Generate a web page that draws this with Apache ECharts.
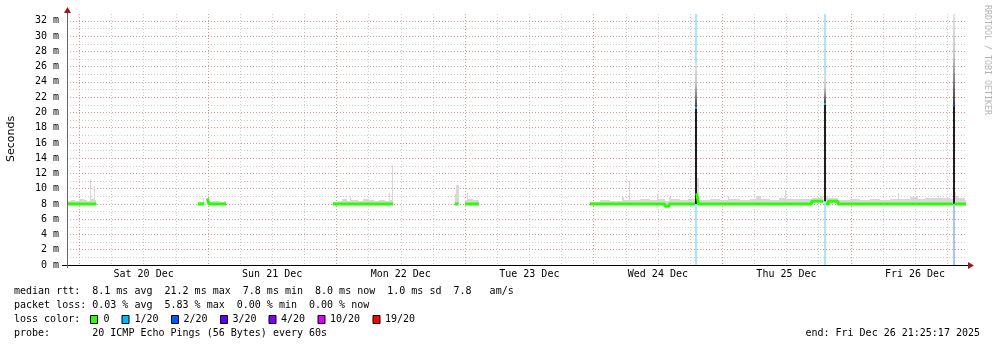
<!DOCTYPE html>
<html><head><meta charset="utf-8">
<script src="https://cdn.jsdelivr.net/npm/echarts@6/dist/echarts.min.js"></script>
<style>html,body{margin:0;padding:0;background:#fff}#c{width:997px;height:347px}</style>
</head><body><div id="c"></div>
<script>
// ---------------- data (hours from Sat 20 Dec 00:00) ----------------
const hours = [
  -2.3,-1.6,-0.8,0.0,0.8,1.5,2.0,2.2,2.8,3.0,3.1,3.2,
  22.1,22.6,23.0,23.3,23.4,
  23.9,24.2,25.0,26.0,27.0,27.4,27.5,
  47.3,48.2,49.0,50.0,50.5,50.8,52.0,53.0,54.0,55.0,56.0,57.0,57.8,58.0,58.3,58.45,58.6,58.7,
  70.1,70.4,70.8,70.9,
  72.0,72.3,72.6,73.5,74.6,74.7,
  95.3,97.2,99.0,101.3,101.6,102.6,102.8,104.6,106.5,107.8,108.1,109.3,110.1,110.4,112.1,113.6,114.9,115.0,
  115.25,115.6,117.8,119.6,121.0,121.2,123.4,125.2,126.3,127.3,128.9,130.7,131.7,131.9,134.5,136.7,138.2,138.9,139.0,
  139.35,139.8,141.6,143.9,145.7,147.6,149.4,151.3,152.8,153.0,155.0,156.3,156.5,157.8,160.2,160.4,162.5,163.0,163.1,
  163.35,163.6,164.0,165.3,165.5
];
const medianMs = [
  8.0,8.0,8.0,8.0,8.0,8.0,8.0,8.0,8.0,8.0,8.0,null,
  8.0,8.0,8.0,8.0,null,
  8.7,8.0,8.0,8.0,8.0,8.0,null,
  8.0,8.0,8.0,8.0,8.0,8.0,8.0,8.0,8.0,8.0,8.0,8.0,8.0,8.0,8.0,8.0,8.0,null,
  8.0,8.0,8.0,null,
  8.0,8.0,8.0,8.0,8.0,null,
  8.0,8.0,8.0,8.0,8.0,8.0,8.0,8.0,8.0,8.0,8.0,7.7,8.0,8.0,8.0,8.0,8.0,null,
  9.4,8.0,8.0,8.0,8.0,8.0,8.0,8.0,8.0,8.0,8.0,8.0,8.0,8.0,8.0,8.35,8.35,8.35,null,
  8.0,8.35,8.0,8.0,8.0,8.0,8.0,8.0,8.0,8.0,8.0,8.0,8.0,8.0,8.0,8.0,8.0,8.0,null,
  8.0,8.0,8.0,8.0,8.0
];
const smokeTopMs = [
  8.4,8.5,8.4,8.6,8.5,8.4,11.3,8.6,10.3,8.5,8.5,null,
  8.2,8.3,8.8,8.8,null,
  8.8,8.3,8.4,8.3,8.4,8.4,null,
  8.2,8.4,8.6,8.4,9.0,8.5,8.4,8.6,8.5,8.4,8.5,8.4,9.5,8.5,13.1,8.6,8.6,null,
  9.3,10.5,10.5,null,
  8.5,9.5,8.6,8.5,8.5,null,
  8.3,8.5,8.4,8.9,8.5,11.0,8.5,8.6,8.5,9.3,8.6,8.4,8.9,8.6,8.5,8.7,8.5,null,
  11.4,8.5,8.6,8.5,9.0,8.6,8.5,8.7,9.0,8.6,8.5,8.8,9.8,8.6,8.6,8.8,8.9,9.0,null,
  9.1,8.8,8.5,8.6,8.5,8.6,8.5,8.7,9.4,8.7,8.9,9.0,8.7,8.8,9.1,8.8,8.7,8.6,null,
  9.6,9.0,8.8,8.5,8.5
];
const spikeHours      = [115.1, 139.2, 163.2];
const spikeBaseMs     = [8.0, 8.35, 8.0];
const spikeMedianMs   = [20.6, 21.1, 20.9];
const spikeSmokeTopMs = [26.5, 25.0, 32.9];
const spikeLoss       = [1, 1, 2];           // pings lost out of 20

const dayLabels  = ['Sat 20 Dec','Sun 21 Dec','Mon 22 Dec','Tue 23 Dec','Wed 24 Dec','Thu 25 Dec','Fri 26 Dec'];
const lossSteps  = [0, 1, 2, 3, 4, 10, 19];
const lossLabels = ['0','1/20','2/20','3/20','4/20','10/20','19/20'];
const lossColors = ['#26ff00','#00b8ff','#0059ff','#5e00ff','#7e00ff','#dd00ff','#ff0000'];

const legendLines = [
  'median rtt:  8.1 ms avg  21.2 ms max  7.8 ms min  8.0 ms now  1.0 ms sd  7.8   am/s',
  'packet loss: 0.03 % avg  5.83 % max  0.00 % min  0.00 % now',
  'loss color:',
  'probe:       20 ICMP Echo Pings (56 Bytes) every 60s'
];
const endText = 'end: Fri Dec 26 21:25:17 2025';

// ---------------- layout ----------------
const X_MIN = -2.3, X_MAX = 165.7, Y_MAX = 32.9;
const G_LEFT = 67, G_RIGHT = 30, G_TOP = 14, G_BOTTOM = 82;
const plotW = 997 - G_LEFT - G_RIGHT;
const G2_LEFT = G_LEFT + (0 - X_MIN) * plotW / (X_MAX - X_MIN);
const MONO = '"DejaVu Sans Mono"';
const MAJ = '#e39393', MIN = '#cdcdcd';

function lossColor(n) {
  let c = lossColors[0];
  for (let i = 0; i < lossSteps.length; i++) if (n >= lossSteps[i]) c = lossColors[i];
  return c;
}
function lighten(hex, a) {
  const r = parseInt(hex.slice(1,3),16), g = parseInt(hex.slice(3,5),16), b = parseInt(hex.slice(5,7),16);
  const f = v => Math.round(255 - (255 - v) * a);
  return 'rgb(' + f(r) + ',' + f(g) + ',' + f(b) + ')';
}

const medData  = hours.map((t,i) => [t, medianMs[i]]);
// smoke: one block per step from hours[i] to hours[i+1]
const smokeData = [];
for (let i = 0; i + 1 < hours.length; i++) {
  if (medianMs[i] == null || smokeTopMs[i] == null || medianMs[i+1] == null) continue;
  smokeData.push([hours[i], hours[i+1], medianMs[i], smokeTopMs[i]]);
}
const spikeData = spikeHours.map((t,i) => [t, spikeBaseMs[i], spikeMedianMs[i], spikeSmokeTopMs[i], spikeLoss[i]]);
const lossData  = spikeHours.map((t,i) => [t, spikeLoss[i]]);

const chart = echarts.init(document.getElementById('c'), null, {renderer: 'canvas'});

const graphic = [];
legendLines.forEach((s, i) => graphic.push({type:'text', x:14, y:291.5 + i*14, style:{text:s, font:'10px ' + MONO, fill:'#000', align:'left', verticalAlign:'middle'}}));
graphic.push({type:'text', x:980, y:333.5, style:{text:endText, font:'10px ' + MONO, fill:'#000', align:'right', verticalAlign:'middle'}});
const boxX = [90.5, 122, 171.5, 220.5, 269, 318, 373];
const labX = [103.5, 134.5, 183.5, 232.5, 281, 330, 385];
lossLabels.forEach((l, i) => {
  graphic.push({type:'rect', shape:{x:boxX[i], y:315.5, width:7, height:8}, style:{fill:lossColors[i], stroke:'#000', lineWidth:1}});
  graphic.push({type:'text', x:labX[i], y:319.5, style:{text:l, font:'10px ' + MONO, fill:'#000', align:'left', verticalAlign:'middle'}});
});
graphic.push({type:'text', x:11, y:139, rotation:Math.PI/2, style:{text:'Seconds', font:'11px "DejaVu Sans"', fill:'#000', align:'center', verticalAlign:'middle'}});
graphic.push({type:'text', x:987, y:60, rotation:-Math.PI/2, style:{text:'RRDTOOL / TOBI OETIKER', font:'8.3px ' + MONO, fill:'#b4b4b4', align:'center', verticalAlign:'middle'}});
graphic.push({type:'line', shape:{x1:62, y1:265.5, x2:968, y2:265.5}, style:{stroke:'#000', lineWidth:1}, z:10});
graphic.push({type:'line', shape:{x1:67.5, y1:268, x2:67.5, y2:12}, style:{stroke:'#666', lineWidth:1}, z:10});
graphic.push({type:'polygon', shape:{points:[[968,262],[974,265.5],[968,269]]}, style:{fill:'#9b1b1b'}, z:11});
graphic.push({type:'polygon', shape:{points:[[64,13],[67.5,7],[71,13]]}, style:{fill:'#9b1b1b'}, z:11});

const option = {
  animation: false,
  backgroundColor: '#fff',
  grid: [
    {left:G_LEFT, right:G_RIGHT, top:G_TOP, bottom:G_BOTTOM},
    {left:G2_LEFT, right:G_RIGHT, top:G_TOP, bottom:G_BOTTOM}
  ],
  xAxis: [
    {gridIndex:0, type:'value', min:X_MIN, max:X_MAX,
     axisLine:{show:false}, axisTick:{show:false}, axisLabel:{show:false}, splitLine:{show:false}},
    {gridIndex:1, type:'value', min:0, max:X_MAX, interval:6,
     axisLine:{show:false}, axisTick:{show:false},
     axisLabel:{show:true, margin:4, fontFamily:MONO, fontSize:10, color:'#000',
       formatter: v => (Math.abs(v % 24 - 12) < 1e-6) ? dayLabels[Math.floor(v/24)] : ''},
     splitLine:{show:true, showMaxLine:false, lineStyle:{color:[MAJ, MIN, MIN, MIN], width:1, type:[1,2]}}}
  ],
  yAxis: [
    {gridIndex:0, type:'value', min:0, max:Y_MAX, interval:1,
     axisLine:{show:false}, axisTick:{show:false},
     axisLabel:{margin:8, fontFamily:MONO, fontSize:10, color:'#000',
       formatter: v => (Number.isInteger(v) && v % 2 === 0) ? v + ' m' : ''},
     splitLine:{show:true, showMaxLine:false, lineStyle:{color:[MAJ, MIN], width:1, type:[1,2]}}},
    {gridIndex:1, type:'value', min:0, max:Y_MAX, show:false}
  ],
  graphic: graphic,
  series: [
    { type:'custom', name:'loss', xAxisIndex:0, yAxisIndex:0, z:1, silent:true, data: lossData,
      renderItem: (params, api) => {
        const t = api.value(0), n = api.value(1);
        const top = api.coord([t, Y_MAX]), bot = api.coord([t, 0]);
        const x = Math.round(top[0]) - 1;
        return {type:'rect', shape:{x:x, y:top[1], width:2, height:bot[1]-top[1]}, style:{fill: lighten(lossColor(n), 0.35)}};
      }},
    { type:'custom', name:'smoke', xAxisIndex:0, yAxisIndex:0, z:2, silent:true, data: smokeData,
      renderItem: (params, api) => {
        const p0 = api.coord([api.value(0), api.value(3)]);
        const p1 = api.coord([api.value(1), api.value(2)]);
        const x0 = Math.round(p0[0]), x1 = Math.max(Math.round(p1[0]), x0 + 1);
        return {type:'rect', shape:{x:x0, y:Math.round(p0[1]), width:x1 - x0, height:Math.round(p1[1]) - Math.round(p0[1])}, style:{fill:'#d8d8d8'}};
      }},
    { type:'custom', name:'spikes', xAxisIndex:0, yAxisIndex:0, z:3, silent:true, data: spikeData,
      renderItem: (params, api) => {
        const t = api.value(0), base = api.value(1), med = api.value(2), top = api.value(3), n = api.value(4);
        const pB = api.coord([t, base]), pM = api.coord([t, med]), pT = api.coord([t, top]);
        const x = Math.round(pB[0]) - 1;
        return {type:'group', children:[
          {type:'rect', shape:{x:x, y:pT[1], width:2, height:pM[1]-pT[1]},
           style:{fill:new echarts.graphic.LinearGradient(0,0,0,1,[{offset:0,color:'#e2e2e2'},{offset:0.45,color:'#c8c8c8'},{offset:1,color:'#3a3a3a'}])}},
          {type:'rect', shape:{x:x, y:pM[1], width:2, height:pB[1]-pM[1]}, style:{fill:'#1e1e1e'}},
          {type:'rect', shape:{x:x, y:pM[1]-1, width:2, height:2}, style:{fill:lossColor(n)}}
        ]};
      }},
    { type:'line', name:'median', xAxisIndex:0, yAxisIndex:0, step:'end', z:4, silent:true,
      data: medData, showSymbol:false, connectNulls:false, lineStyle:{color:'#26ff00', width:3} }
  ]
};
chart.setOption(option);
</script>
</body></html>
